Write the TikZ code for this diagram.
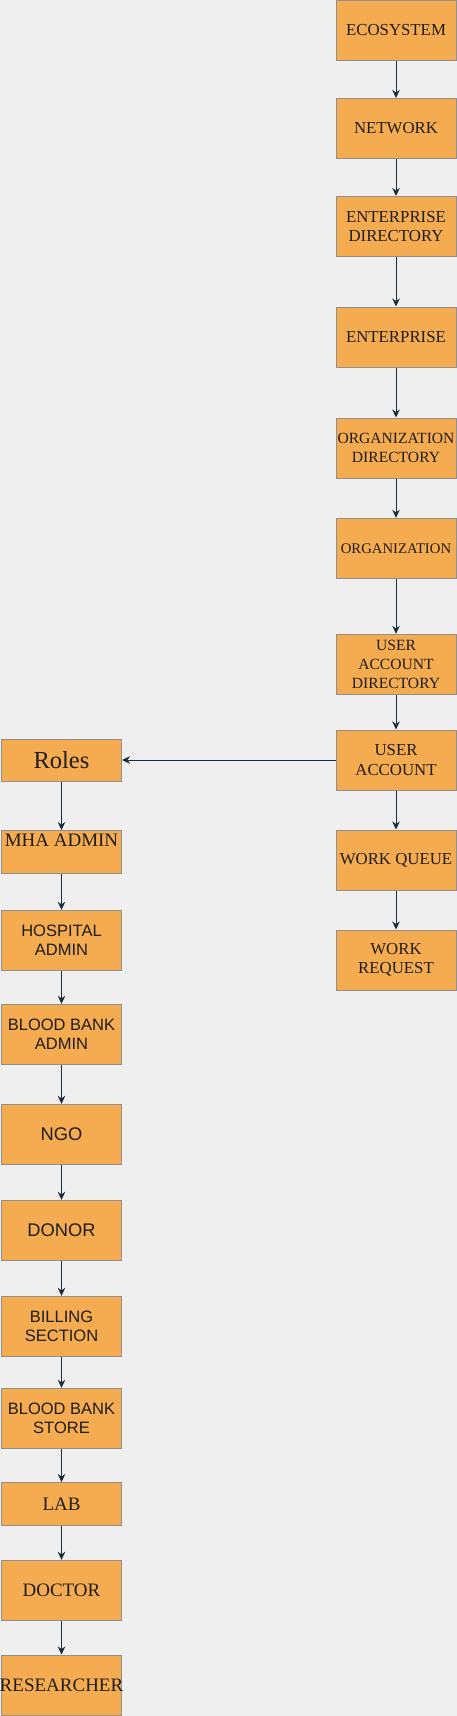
\documentclass[tikz,border=0pt]{standalone}
\usepackage{fontspec}
\setmainfont{Liberation Serif}
\newfontfamily\sansf{Liberation Sans}
\usetikzlibrary{arrows.meta}
\definecolor{bgc}{HTML}{EFEFEF}
\definecolor{boxfill}{HTML}{F5AB50}
\definecolor{boxline}{HTML}{909090}
\definecolor{arrowc}{HTML}{182E3E}
\definecolor{txtc}{HTML}{1E1E1E}
\newcommand{\fsA}{\fontsize{16.8}{19.5}\selectfont}
\newcommand{\fsB}{\fontsize{15.6}{18.8}\selectfont}
\newcommand{\fsC}{\fontsize{14.7}{17.5}\selectfont}
\newcommand{\fsRoles}{\fontsize{24.5}{28}\selectfont}
\newcommand{\fsD}{\fontsize{19}{22}\selectfont}
\newcommand{\fsS}{\sansf\fontsize{16.5}{19.5}\selectfont}
\newcommand{\fsSL}{\sansf\fontsize{18.3}{21}\selectfont}
\begin{document}
\begin{tikzpicture}[x=1pt,y=-1pt,
  box/.style={draw=boxline,fill=boxfill,line width=1pt,minimum width=120pt,
    minimum height=60pt,inner sep=0pt,align=center,text=txtc},
  shortbox/.style={box,minimum height=42.5pt},
  plain/.style={inner sep=0pt,text=txtc},
  arr/.style={draw=arrowc,line width=1pt,
    -{Stealth[length=8pt,width=7.5pt,inset=2.5pt]}}]
\fill[bgc] (0,0) rectangle (457,1716);
\useasboundingbox (0,0) rectangle (457,1716);
% right column
\node[box,font=\fsA] (eco) at (396,30.5) {ECOSYSTEM};
\node[box,font=\fsA] (net) at (396,128.5) {NETWORK};
\node[box,font=\fsA] (entdir) at (396,226.5) {ENTERPRISE\\DIRECTORY};
\node[box,font=\fsA] (ent) at (396,337) {ENTERPRISE};
\node[box,font=\fsB] (orgdir) at (396,448) {ORGANIZATION\\DIRECTORY};
\node[box,font=\fsC] (org) at (396,548.3) {ORGANIZATION};
\node[box,font=\fsB] (uad) at (396,664.3) {USER\\ACCOUNT\\DIRECTORY};
\node[box,font=\fsA] (ua) at (396,760) {USER\\ACCOUNT};
\node[box,font=\fsA] (wq) at (396,860) {WORK QUEUE};
\node[box,font=\fsA] (wr) at (396,960) {WORK\\REQUEST};
% left column
\node[shortbox,font=\fsRoles] (roles) at (61.5,760.3) {Roles};
\node[shortbox] (mha) at (61.5,851.8) {};
\node[plain,font=\fsD] (mhat) at ([yshift=-10.5pt]mha.north) {MHA ADMIN};
\node[box,font=\fsS] (hosp) at (61.5,940.3) {HOSPITAL\\ADMIN};
\node[box,font=\fsS] (bba) at (61.5,1034.3) {BLOOD BANK\\ADMIN};
\node[box,font=\fsSL] (ngo) at (61.5,1134.3) {NGO};
\node[box,font=\fsSL] (donor) at (61.5,1230.3) {DONOR};
\node[box,font=\fsS] (bill) at (61.5,1326.3) {BILLING\\SECTION};
\node[box,font=\fsS] (bbs) at (61.5,1418.3) {BLOOD BANK\\STORE};
\node[shortbox,font=\fsD] (lab) at (61.5,1503.8) {LAB};
\node[box,font=\fsD] (doc) at (61.5,1590.3) {DOCTOR};
\node[box,font=\fsD] (res) at (61.5,1685) {\makebox[0pt]{RESEARCHER}};
% connectors
\draw[arr] (eco) -- (net);
\draw[arr] (net) -- (entdir);
\draw[arr] (entdir) -- (ent);
\draw[arr] (ent) -- (orgdir);
\draw[arr] (orgdir) -- (org);
\draw[arr] (org) -- (uad);
\draw[arr] (uad) -- (ua);
\draw[arr] (ua) -- (wq);
\draw[arr] (wq) -- (wr);
\draw[arr] (ua.west) -- (roles.east |- ua.west);
\draw[arr] (roles) -- (mha);
\draw[arr] (mha) -- (hosp);
\draw[arr] (hosp) -- (bba);
\draw[arr] (bba) -- (ngo);
\draw[arr] (ngo) -- (donor);
\draw[arr] (donor) -- (bill);
\draw[arr] (bill) -- (bbs);
\draw[arr] (bbs) -- (lab);
\draw[arr] (lab) -- (doc);
\draw[arr] (doc) -- (res);
\end{tikzpicture}
\end{document}
